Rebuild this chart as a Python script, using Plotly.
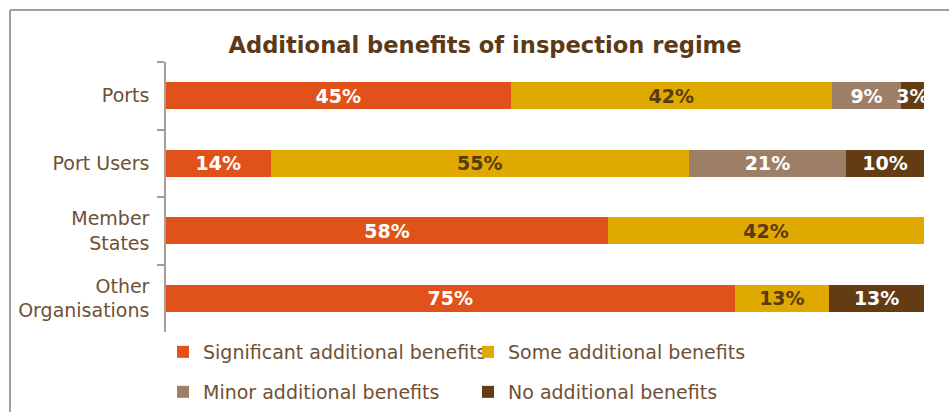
import plotly.graph_objects as go

categories = ["Ports", "Port Users", "Member<br>States", "Other<br>Organisations"]
series_names = ["Significant additional benefits", "Some additional benefits",
                "Minor additional benefits", "No additional benefits"]
significant = [45.45, 13.8, 58.3, 75.0]
some = [42.42, 55.2, 41.7, 12.5]
minor = [9.09, 20.7, 0.0, 0.0]
none_ = [3.03, 10.3, 0.0, 12.5]
significant_lbl = ["45%", "14%", "58%", "75%"]
some_lbl = ["42%", "55%", "42%", "13%"]
minor_lbl = ["9%", "21%", "", ""]
none_lbl = ["3%", "10%", "", "13%"]

colors = ["#E05219", "#E0A900", "#9D7F67", "#633C13"]
text_colors = ["#FFFFFF", "#5A3A10", "#FFFFFF", "#FFFFFF"]
values = [significant, some, minor, none_]
labels = [significant_lbl, some_lbl, minor_lbl, none_lbl]
legend_ids = ["legend", "legend2", "legend3", "legend4"]

W, H = 949, 412
L, R, T, B = 166, 25, 62, 80
PW, PH = W - L - R, H - T - B

def px_x(px):
    return (px - L) / PW

def px_y(py):
    return (H - B - py) / PH

fig = go.Figure()
for name, vals, lbl, col, tcol, lg in zip(series_names, values, labels, colors, text_colors, legend_ids):
    fig.add_trace(go.Bar(
        y=categories, x=vals, name=name, orientation="h",
        marker=dict(color=col, line=dict(width=0)),
        text=lbl, texttemplate="%{text}", textposition="inside",
        insidetextanchor="middle", constraintext="none", textangle=0,
        textfont=dict(family="DejaVu Sans", size=19, color=tcol, weight="bold"),
        hoverinfo="skip", legend=lg, cliponaxis=True,
    ))

legend_common = dict(orientation="h", xanchor="left", yanchor="middle",
                     xref="container", yref="container",
                     font=dict(family="DejaVu Sans", size=19, color="#6F5034"),
                     bgcolor="rgba(0,0,0,0)")
leg_pos = [(163, 352), (468, 352), (163, 392), (468, 392)]
legends = {}
for lg, (lx, ly) in zip(legend_ids, leg_pos):
    legends[lg] = dict(legend_common, x=lx / W, y=1 - ly / H)

border_color = "#A99C93"
fig.update_layout(
    width=W, height=H,
    margin=dict(l=L, r=R, t=T, b=B, autoexpand=False),
    paper_bgcolor="white", plot_bgcolor="white",
    barmode="stack", bargap=0.6,
    title=dict(text="<b>Additional benefits of inspection regime</b>",
               x=485 / W, xref="container", xanchor="center",
               y=1 - 45 / H, yref="container", yanchor="middle",
               font=dict(family="DejaVu Sans", size=22.6, color="#5C3A17")),
    xaxis=dict(range=[0, 100], visible=False, fixedrange=True),
    yaxis=dict(autorange="reversed", tickson="boundaries", ticks="outside",
               ticklen=7, tickcolor=border_color, tickwidth=1.5,
               showline=True, linecolor=border_color, linewidth=1.5,
               showgrid=False, ticklabelstandoff=11, fixedrange=True,
               tickfont=dict(family="DejaVu Sans", size=19, color="#6F5034")),
    showlegend=True,
    shapes=[
        dict(type="line", xref="paper", yref="paper",
             x0=px_x(10), x1=px_x(10), y0=px_y(10), y1=px_y(420),
             line=dict(color=border_color, width=2)),
        dict(type="line", xref="paper", yref="paper",
             x0=px_x(10), x1=px_x(960), y0=px_y(10), y1=px_y(10),
             line=dict(color=border_color, width=2)),
    ],
    **legends,
)

fig.write_html("out.html", config={"displayModeBar": False},
               post_script="document.body.style.margin='0';")
